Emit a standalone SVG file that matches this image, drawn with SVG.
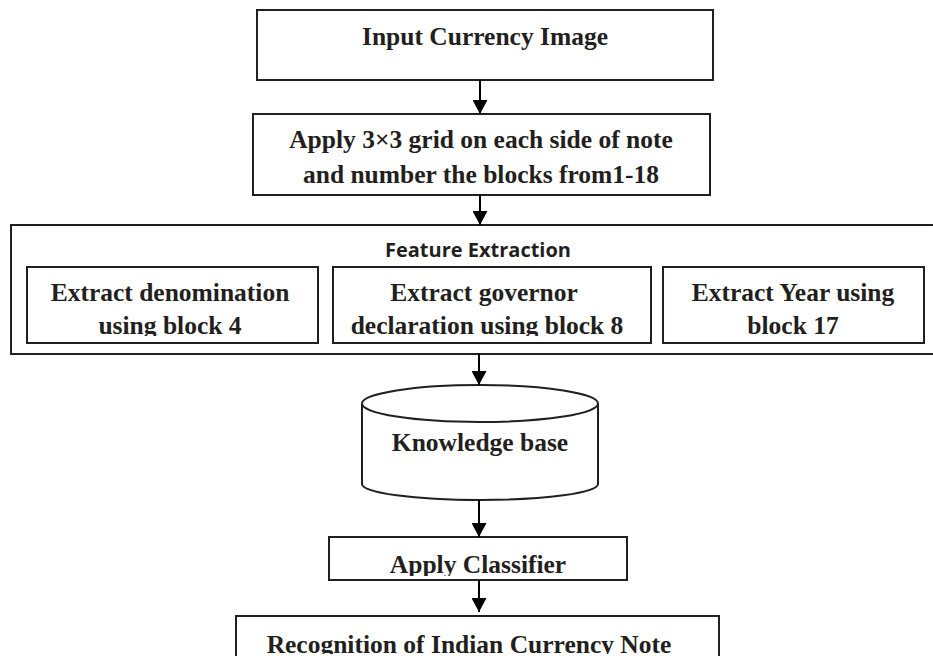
<svg xmlns="http://www.w3.org/2000/svg" width="933" height="656" viewBox="0 0 933 656">
<style>
.box{fill:#fff;stroke:#231f20;stroke-width:2}
.t{font-family:"Liberation Serif","Times New Roman",serif;font-weight:bold;font-size:25.5px;fill:#231f20;text-anchor:middle}
.s{font-family:"Open Sans","Noto Sans",sans-serif;font-weight:bold;font-size:20px;fill:#231f20;text-anchor:middle}
.c{stroke:#000;stroke-width:2;fill:none}
</style>
<defs>
<marker id="ah" viewBox="0 0 14 15" refX="14" refY="7.5" markerWidth="14" markerHeight="15" markerUnits="userSpaceOnUse" orient="auto">
<path d="M0,0 L14,7.5 L0,15 Z" fill="#000"/>
</marker>
<clipPath id="c1"><rect x="20" y="260" width="900" height="76"/></clipPath>
<clipPath id="c2"><rect x="320" y="540" width="300" height="36"/></clipPath>
<clipPath id="c3"><rect x="230" y="620" width="500" height="34"/></clipPath>
</defs>
<rect width="933" height="656" fill="#fff"/>
<g id="input">
<rect class="box" x="257" y="10" width="456" height="70"/>
<text class="t" x="485" y="45">Input Currency Image</text>
</g>
<g id="grid">
<rect class="box" x="253" y="114" width="457" height="81"/>
<text class="t" x="481" y="148">Apply 3×3 grid on each side of note</text>
<text class="t" x="481" y="183">and number the blocks from1-18</text>
</g>
<g id="feature">
<rect class="box" x="11" y="225" width="930" height="129"/>
<text class="s" x="478" y="257">Feature Extraction</text>
</g>
<g id="denom">
<rect class="box" x="27" y="267" width="291" height="76"/>
<g clip-path="url(#c1)">
<text class="t" x="170" y="301">Extract denomination</text>
<text class="t" x="170" y="334">using block 4</text>
</g>
</g>
<g id="governor">
<rect class="box" x="333" y="267" width="318" height="76"/>
<g clip-path="url(#c1)">
<text class="t" x="484" y="301">Extract governor</text>
<text class="t" x="487" y="334">declaration using block 8</text>
</g>
</g>
<g id="year">
<rect class="box" x="663" y="267" width="261" height="76"/>
<g clip-path="url(#c1)">
<text class="t" x="793" y="301">Extract Year using</text>
<text class="t" x="793" y="334">block 17</text>
</g>
</g>
<g id="kb">
<path class="box" d="M362,403.5 L362,484 A118,16 0 0 0 598,484 L598,403.5"/>
<ellipse class="box" cx="480" cy="403.5" rx="118" ry="18.5"/>
<text class="t" x="480" y="451">Knowledge base</text>
</g>
<g id="classifier">
<rect class="box" x="329" y="537" width="298" height="43"/>
<g clip-path="url(#c2)"><text class="t" x="478" y="573">Apply Classifier</text></g>
</g>
<g id="recognition">
<rect class="box" x="236" y="616" width="483" height="60"/>
<g clip-path="url(#c3)"><text class="t" x="469" y="653">Recognition of Indian Currency Note</text></g>
</g>
<g id="connectors">
<line class="c" x1="480" y1="80" x2="480" y2="114" marker-end="url(#ah)"/>
<line class="c" x1="480" y1="195" x2="480" y2="225" marker-end="url(#ah)"/>
<line class="c" x1="479" y1="354" x2="479" y2="385" marker-end="url(#ah)"/>
<line class="c" x1="479" y1="500" x2="479" y2="537" marker-end="url(#ah)"/>
<line class="c" x1="479" y1="580" x2="479" y2="612" marker-end="url(#ah)"/>
</g>
</svg>
